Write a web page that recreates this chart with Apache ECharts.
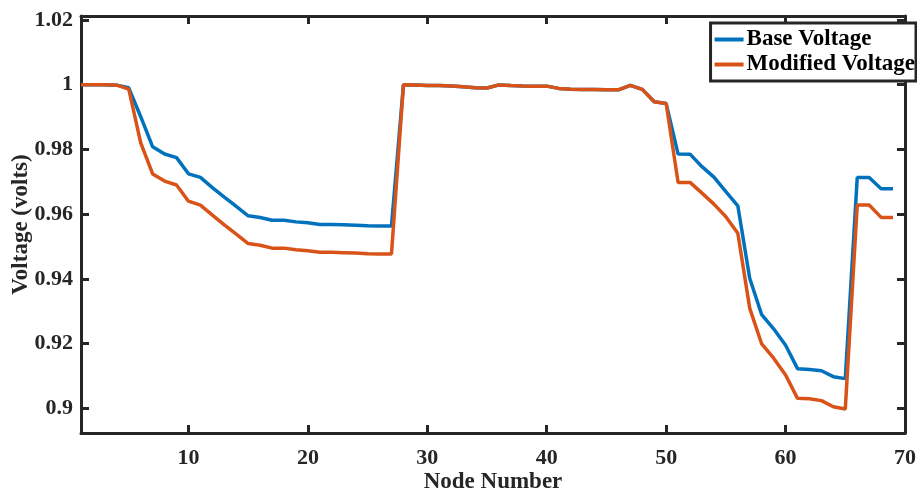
<!DOCTYPE html>
<html>
<head>
<meta charset="utf-8">
<script src="https://cdn.jsdelivr.net/npm/echarts@6/dist/echarts.min.js"></script>
<style>
  html, body { margin: 0; padding: 0; background: #fff; }
  #chart { width: 917px; height: 492px; }
</style>
</head>
<body>
<div id="chart"></div>
<script>
// node voltage profile (69 nodes)
const baseVoltage = [
  1.0000, 0.99997, 0.99993, 0.99984, 0.99902, 0.99009, 0.98079, 0.97858, 0.97745, 0.97245,
  0.97135, 0.96819, 0.96526, 0.96237, 0.95950, 0.95897, 0.95809, 0.95808, 0.95761, 0.95732,
  0.95683, 0.95683, 0.95676, 0.95660, 0.95643, 0.95636, 0.95634, 0.99993, 0.99985, 0.99973,
  0.99971, 0.99961, 0.99935, 0.99901, 0.99895, 0.99992, 0.99975, 0.99959, 0.99954, 0.99954,
  0.99884, 0.99855, 0.99851, 0.99850, 0.99841, 0.99840, 0.99979, 0.99854, 0.99470, 0.99415,
  0.97854, 0.97853, 0.97466, 0.97142, 0.96695, 0.96258, 0.94011, 0.92893, 0.92458, 0.91949,
  0.91227, 0.91199, 0.91162, 0.90980, 0.90919, 0.97129, 0.97129, 0.96786, 0.96786
];
const modifiedVoltage = [
  1.0000, 0.99997, 0.99993, 0.99984, 0.99860, 0.98200, 0.97240, 0.97020, 0.96900, 0.96400,
  0.96280, 0.95970, 0.95670, 0.95380, 0.95090, 0.95040, 0.94950, 0.94950, 0.94900, 0.94870,
  0.94820, 0.94820, 0.94810, 0.94800, 0.94780, 0.94770, 0.94770, 0.99993, 0.99985, 0.99973,
  0.99971, 0.99961, 0.99935, 0.99901, 0.99895, 0.99992, 0.99975, 0.99959, 0.99954, 0.99954,
  0.99884, 0.99855, 0.99851, 0.99850, 0.99841, 0.99840, 0.99979, 0.99854, 0.99470, 0.99415,
  0.96980, 0.96980, 0.96650, 0.96310, 0.95920, 0.95410, 0.93090, 0.91990, 0.91550, 0.91030,
  0.90310, 0.90300, 0.90240, 0.90050, 0.89980, 0.96280, 0.96280, 0.95900, 0.95900
];
const xTicks = [10, 20, 30, 40, 50, 60, 70];
const yTicks = [0.9, 0.92, 0.94, 0.96, 0.98, 1.0, 1.02];

const toPairs = arr => arr.map((v, i) => [i + 1, v]);

const axisColor = '#262626';
const font = 'Liberation Serif';
const axisLine = { show: true, onZero: false, lineStyle: { color: axisColor, width: 3 } };
const tick = vals => ({ show: true, inside: true, length: 8, customValues: vals, lineStyle: { color: axisColor, width: 3 } });
const tickFont = { color: axisColor, fontFamily: font, fontWeight: 'bold', fontSize: 22 };
const nameFont = { color: axisColor, fontFamily: font, fontWeight: 'bold', fontSize: 23 };
const fmtY = v => String(parseFloat(v.toFixed(2)));

let option = {
  animation: false,
  backgroundColor: '#fff',
  grid: { left: 81, right: 12, top: 16, bottom: 59, containLabel: false, outerBoundsMode: 'none' },
  legend: {
    right: 1,
    top: 23,
    orient: 'vertical',
    backgroundColor: '#fff',
    borderColor: axisColor,
    borderWidth: 3,
    borderRadius: 0,
    padding: [5, 1, 5, 4],
    itemGap: 2,
    itemWidth: 29,
    itemHeight: 4,
    icon: 'rect',
    textStyle: { color: '#000', fontFamily: font, fontWeight: 'bold', fontSize: 23, padding: [0, 0, 0, -2] },
    data: ['Base Voltage', 'Modified Voltage']
  },
  xAxis: [{
    type: 'value',
    min: 1,
    max: 70,
    name: 'Node Number',
    nameLocation: 'middle',
    nameGap: 38,
    nameMoveOverlap: false,
    nameTextStyle: nameFont,
    axisLine: axisLine,
    axisTick: tick(xTicks),
    axisLabel: Object.assign({ customValues: xTicks, margin: 14 }, tickFont),
    splitLine: { show: false }
  }, {
    type: 'value',
    position: 'top',
    min: 1,
    max: 70,
    axisLine: axisLine,
    axisTick: tick(xTicks),
    axisLabel: { show: false },
    splitLine: { show: false }
  }],
  yAxis: [{
    type: 'value',
    min: 0.8924,
    max: 1.0212,
    name: 'Voltage (volts)',
    nameLocation: 'middle',
    nameGap: 48,
    nameMoveOverlap: false,
    nameTextStyle: nameFont,
    axisLine: axisLine,
    axisTick: tick(yTicks),
    axisLabel: Object.assign({ customValues: yTicks, margin: 8, formatter: fmtY }, tickFont),
    splitLine: { show: false }
  }, {
    type: 'value',
    position: 'right',
    min: 0.8924,
    max: 1.0212,
    axisLine: axisLine,
    axisTick: tick(yTicks),
    axisLabel: { show: false },
    splitLine: { show: false }
  }],
  series: [{
    name: 'Base Voltage',
    type: 'line',
    symbol: 'none',
    color: '#0072BD',
    lineStyle: { width: 3.5, color: '#0072BD' },
    data: toPairs(baseVoltage)
  }, {
    name: 'Modified Voltage',
    type: 'line',
    symbol: 'none',
    color: '#D95319',
    lineStyle: { width: 3.5, color: '#D95319' },
    data: toPairs(modifiedVoltage)
  }]
};

echarts.init(document.getElementById('chart')).setOption(option);
</script>
</body>
</html>
